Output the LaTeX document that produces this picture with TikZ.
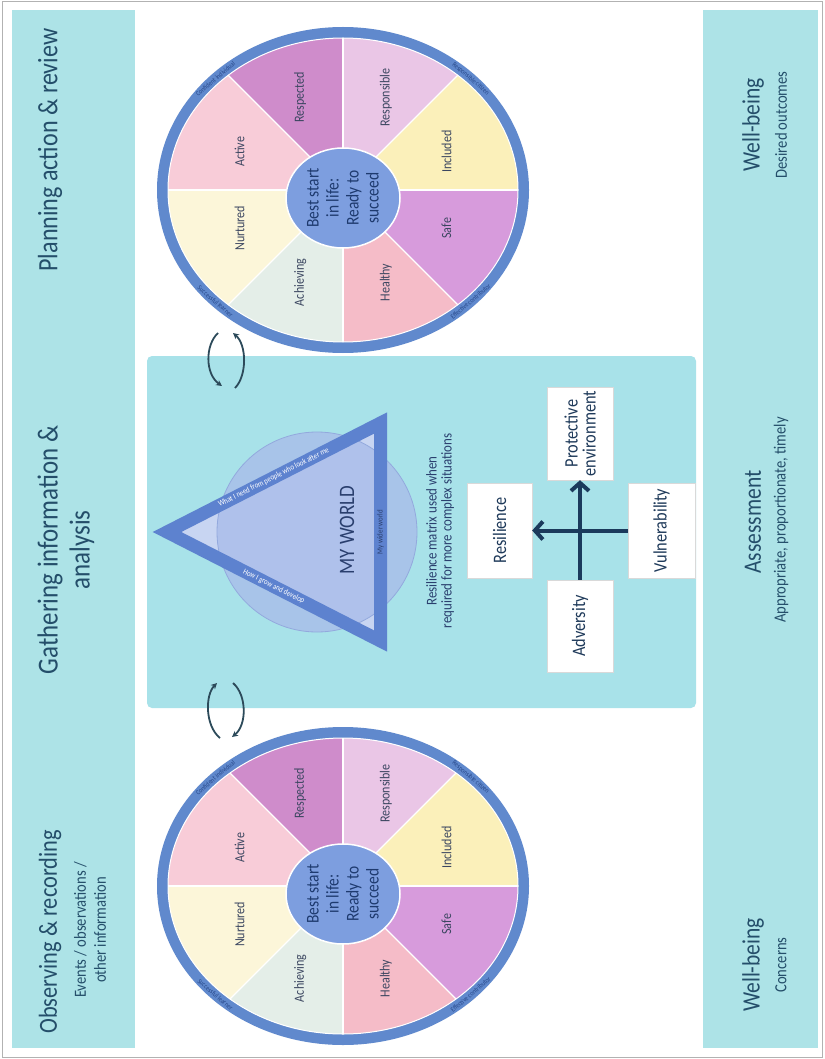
\documentclass[tikz,border=0pt]{standalone}
\usepackage{fontspec}
\setmainfont{Carlito}[FakeStretch=0.86]
\usetikzlibrary{arrows.meta}
\definecolor{band}{HTML}{ADE3E7}
\definecolor{panel}{HTML}{A8E2E9}
\definecolor{txt}{HTML}{244E6A}
\definecolor{ringblue}{HTML}{6089CD}
\definecolor{ringtxt}{HTML}{27488A}
\definecolor{centerblue}{HTML}{7D9EDF}
\definecolor{centertxt}{HTML}{1E3A6E}
\definecolor{sectxt}{HTML}{3B4660}
\definecolor{cSafe}{HTML}{D79BDC}
\definecolor{cHealthy}{HTML}{F5BCC8}
\definecolor{cAchieving}{HTML}{E4EEE8}
\definecolor{cNurtured}{HTML}{FCF6D9}
\definecolor{cActive}{HTML}{F8CCD8}
\definecolor{cRespected}{HTML}{CF8CCB}
\definecolor{cResponsible}{HTML}{EAC6E6}
\definecolor{cIncluded}{HTML}{FBF0BA}
\definecolor{triline}{HTML}{5D82CF}
\definecolor{trifill}{HTML}{C8D5F2}
\definecolor{circfill}{HTML}{A9BDEA}
\definecolor{circline}{HTML}{93A9DD}
\definecolor{worldtxt}{HTML}{2A3F6E}
\definecolor{marrowc}{HTML}{1B3A5C}
\definecolor{cycc}{HTML}{2C4A5A}
\definecolor{boxtxt}{HTML}{1F3A5A}
\newcommand\fs[2]{\fontsize{#1}{#2}\selectfont}
\tikzset{
  lbl/.style={rotate=90, text=txt, inner sep=0pt, align=center},
  seclbl/.style={rotate=90, text=sectxt, inner sep=0pt, font=\fs{14}{15}},
  ringlbl/.style={text=ringtxt, inner sep=0pt, font=\fs{7}{8}},
  mbox/.style={fill=white, draw=white!85!black, line width=0.4, rotate=90,
    font=\fs{19}{18}, text=boxtxt, align=center, inner sep=2pt},
  marrow/.style={draw=marrowc, line width=4, -{Straight Barb[length=8pt,width=18pt]}},
  cyc/.style={draw=cycc, line width=1.8, -{Stealth[length=6pt,width=6pt]}}
}
% #1 prefix, #2 cx, #3 cy, #4 outer y radius, #5 inner y radius
\newcommand\drawwheel[5]{%
  \coordinate (#1c) at (#2,#3);
  \fill[ringblue] (#1c) ellipse[x radius=186, y radius=#4];
  \begin{scope}
    \clip (#1c) ellipse[x radius=175, y radius=#5];
    \foreach \a/\col in {0/cSafe,45/cHealthy,90/cAchieving,135/cNurtured,
        180/cActive,225/cRespected,270/cResponsible,315/cIncluded}
      \fill[\col] (#1c) -- +(\a:400) -- +(\a+45:400) -- cycle;
    \foreach \a in {0,45,...,315}
      \draw[white, line width=1.2] (#1c) -- +(\a:400);
  \end{scope}
  \draw[white, line width=1] (#1c) ellipse[x radius=175, y radius=#5];
  \foreach \a/\t/\n in {22.5/Safe/safe,67.5/Healthy/healthy,112.5/Achieving/achieving,
      157.5/Nurtured/nurtured,202.5/Active/active,247.5/Respected/respected,
      292.5/Responsible/responsible,337.5/Included/included}
    \node[seclbl] (#1\n) at ({#2+112*cos(\a)},{#3+100*sin(\a)}) {\t};
  \fill[centerblue, draw=white, line width=1.5] (#2,#3+8) ellipse[x radius=57, y radius=50];
  \node[rotate=90, text=centertxt, inner sep=0pt, align=center, font=\fs{18}{20}]
    (#1best) at (#2,#3+8) {Best start\\in life:\\Ready to\\succeed};
  \node[ringlbl, rotate=40.5] (#1ringA) at ({#2+180.5*cos(225)},{#3+(#4-5.5)*sin(225)}) {Confident individual};
  \node[ringlbl, rotate=-40.5] (#1ringB) at ({#2+180.5*cos(315)},{#3+(#4-5.5)*sin(315)}) {Responsible citizen};
  \node[ringlbl, rotate=40.5] (#1ringC) at ({#2+180.5*cos(45)},{#3+(#4-5.5)*sin(45)}) {Effective contributor};
  \node[ringlbl, rotate=-40.5] (#1ringD) at ({#2+180.5*cos(135)},{#3+(#4-5.5)*sin(135)}) {Successful learner};
}
\begin{document}
\begin{tikzpicture}[x=1pt, y=-1pt]
\useasboundingbox (0,0) rectangle (824,1059);
\fill[white] (0,0) rectangle (824,1059);
\draw[black!30, line width=1] (2,2) rectangle (822,1057);
% bands
\fill[band] (12,10) rectangle (135,1048);
\fill[band] (703,10) rectangle (818,1048);
% left band texts
\node[lbl, font=\fs{26}{30}] (obs) at (50,932) {Observing \& recording};
\node[lbl, font=\fs{17}{20}] (obssub) at (90,930) {Events / observations /\\other information};
\node[lbl, font=\fs{29}{32}] (gath) at (66,550) {Gathering information \&\\analysis};
\node[lbl, font=\fs{28}{30}] (plan) at (50,150) {Planning action \& review};
% right band texts
\node[lbl, font=\fs{25}{28}] (wb1) at (753,965) {Well-being};
\node[lbl, font=\fs{17}{20}] (wb1s) at (781,965) {Concerns};
\node[lbl, font=\fs{25}{28}] (ass) at (753,522) {Assessment};
\node[lbl, font=\fs{17}{20}] (asss) at (781,520) {Appropriate, proportionate, timely};
\node[lbl, font=\fs{25}{28}] (wb2) at (753,125) {Well-being};
\node[lbl, font=\fs{17}{20}] (wb2s) at (781,125) {Desired outcomes};
% middle panel
\fill[panel, rounded corners=5] (147,356) rectangle (696,708);
% wheels
\drawwheel{T}{343}{190}{163}{152}
\drawwheel{B}{343}{886}{159}{148}
% triangle
\coordinate (apex) at (167,532);
\coordinate (tr) at (380.5,423);
\coordinate (br) at (380.5,641);
\fill[trifill] (apex) -- (tr) -- (br) -- cycle;
\fill[circfill, opacity=0.8] (317,532) circle[radius=100];
\draw[circline, line width=0.8] (317,532) circle[radius=100];
\draw[triline, line width=13, line join=miter] (apex) -- (tr) -- (br) -- cycle;
\node[rotate=26.6, text=white, inner sep=0pt, font=\fs{8}{9}] (edgeA) at (273.75,477.5)
  {What I need from people who look after me};
\node[rotate=-26.6, text=white, inner sep=0pt, font=\fs{8}{9}] (edgeB) at (273.75,586.5)
  {How I grow and develop};
\node[rotate=90, text=worldtxt, inner sep=0pt, font=\fs{8}{9}] (edgeC) at (380.5,532)
  {My wider world};
\node[rotate=90, text=worldtxt, inner sep=0pt, font=\fs{22}{24}] (myworld) at (347,530) {MY WORLD};
\node[lbl, text=worldtxt, font=\fs{15}{15}] (note) at (440,531)
  {Resilience matrix used when\\required for more complex situations};
% resilience matrix
\node[mbox, minimum width=95, minimum height=65] (res) at (499.5,530.5) {Resilience};
\node[mbox, minimum width=93, minimum height=66] (prot) at (580,433.5) {Protective\\environment};
\node[mbox, minimum width=95, minimum height=67] (vul) at (661.5,530.5) {Vulnerability};
\node[mbox, minimum width=92, minimum height=66] (adv) at (580,626) {Adversity};
\draw[marrow] (adv) -- (prot);
\draw[marrow] (vul) -- (res);
% cycle arrows
\coordinate (ta1) at (218,333); \coordinate (ta2) at (222,386);
\coordinate (tb1) at (235,388); \coordinate (tb2) at (233,333);
\draw[cyc] (ta1) .. controls (205,345) and (205,374) .. (ta2);
\draw[cyc] (tb1) .. controls (247,376) and (247,345) .. (tb2);
\coordinate (ba1) at (220,738); \coordinate (ba2) at (217,683);
\coordinate (bb1) at (233,683); \coordinate (bb2) at (232,737);
\draw[cyc] (ba1) .. controls (205,726) and (205,695) .. (ba2);
\draw[cyc] (bb1) .. controls (247,695) and (247,725) .. (bb2);
\end{tikzpicture}
\end{document}
